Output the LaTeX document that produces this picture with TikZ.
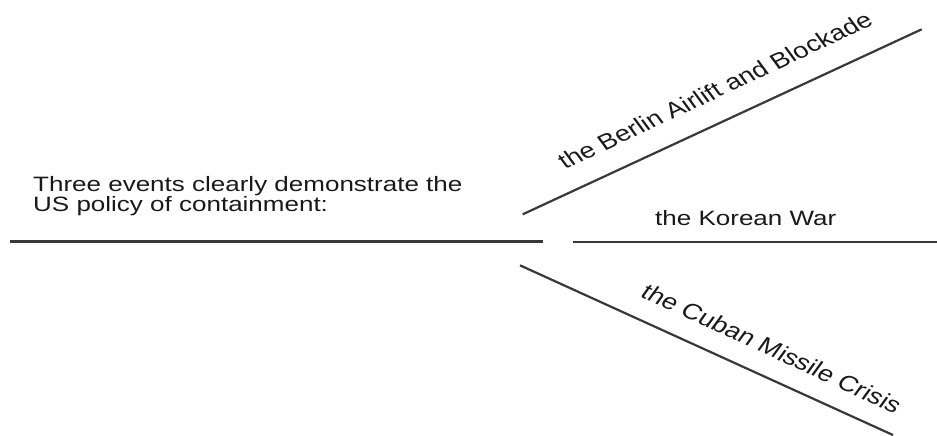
\documentclass[tikz,border=0pt]{standalone}
\usepackage{fontspec}
\setmainfont{Liberation Sans}
\begin{document}
\begin{tikzpicture}[x=1pt,y=-1.25pt,yscale=0.8,transform shape,
  rule/.style={line width=2.2pt,draw=black!78},
  lbl/.style={anchor=base west,inner sep=0pt,text=black!90,font=\fontsize{26}{25}\selectfont},
  slant/.style={anchor=base west,inner sep=0pt,text=black!90,font=\fontsize{27.5}{27}\selectfont}]
\useasboundingbox (0,0) rectangle (937,435);
\coordinate (L1) at (10,241.5);
\coordinate (L2) at (543,241.5);
\coordinate (R1) at (573,242);
\coordinate (R2) at (937,242);
\coordinate (U1) at (522.7,214.3);
\coordinate (U2) at (921.7,29.3);
\coordinate (D1) at (520,265.3);
\coordinate (D2) at (893,435);
\draw[rule] (L1) -- (L2);
\draw[rule] (R1) -- (R2);
\draw[rule] (U1) -- (U2);
\draw[rule] (D1) -- (D2);
\node[lbl] (t1) at (33,191.7) {Three events clearly demonstrate the};
\node[lbl] (t2) at (33,211.7) {US policy of containment:};
\node[lbl] (korea) at (655,225) {the Korean War};
\node[slant,rotate=30.5] (berlin) at (565,170) {the Berlin Airlift and Blockade};
\node[slant,rotate=-30] (cuba) at (639,296) {the Cuban Missile Crisis};
\end{tikzpicture}
\end{document}
